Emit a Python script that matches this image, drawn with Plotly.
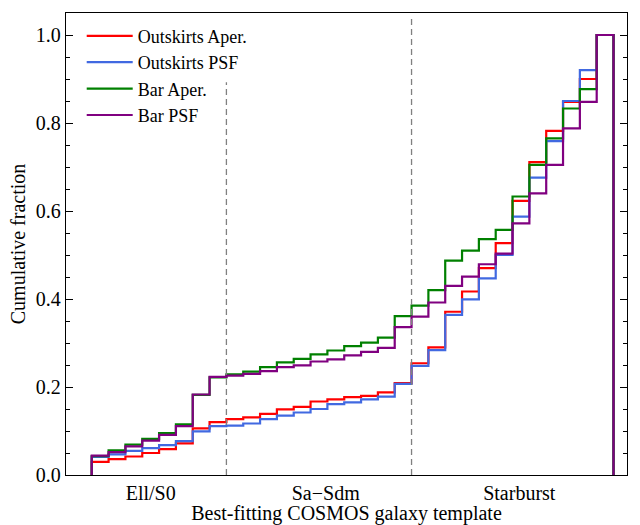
import plotly.graph_objects as go

# Cumulative fraction per COSMOS template bin (31 templates, bin edges 0..31)
outskirts_aper = [0.030, 0.036, 0.042, 0.050, 0.059, 0.072, 0.106, 0.120,
                  0.127, 0.131, 0.139, 0.149, 0.155, 0.167, 0.172, 0.177,
                  0.180, 0.188, 0.209, 0.254, 0.290, 0.371, 0.417, 0.470,
                  0.527, 0.623, 0.711, 0.782, 0.848, 0.900, 1.000]
outskirts_psf = [0.041, 0.047, 0.055, 0.061, 0.068, 0.077, 0.099, 0.111,
                 0.112, 0.117, 0.127, 0.135, 0.142, 0.150, 0.161, 0.165,
                 0.172, 0.178, 0.207, 0.248, 0.284, 0.364, 0.399, 0.447,
                 0.500, 0.587, 0.676, 0.759, 0.850, 0.920, 1.000]
bar_aper = [0.043, 0.056, 0.069, 0.082, 0.095, 0.115, 0.182, 0.222,
            0.229, 0.235, 0.245, 0.256, 0.264, 0.274, 0.283, 0.293,
            0.301, 0.312, 0.361, 0.385, 0.420, 0.487, 0.510, 0.536,
            0.557, 0.633, 0.705, 0.765, 0.833, 0.877, 1.000]
bar_psf = [0.044, 0.052, 0.065, 0.078, 0.091, 0.111, 0.183, 0.223,
           0.226, 0.230, 0.236, 0.245, 0.249, 0.258, 0.263, 0.272,
           0.280, 0.289, 0.336, 0.360, 0.392, 0.430, 0.451, 0.479,
           0.503, 0.572, 0.640, 0.705, 0.788, 0.848, 1.000]

series_names = ["Outskirts Aper.", "Outskirts PSF", "Bar Aper.", "Bar PSF"]
series_colors = ["#ff0000", "#4169e1", "#008000", "#800080"]

# Template class boundaries and label positions
class_boundaries = [8, 19]
class_labels = ["Ell/S0", "Sa\u2212Sdm", "Starburst"]
class_label_pos = [3.5, 13.9, 25.4]

FONT = "Liberation Serif"


def step_outline(values):
    """Outline of a cumulative step histogram (no bottom edge)."""
    n = len(values)
    xs = [0] + list(range(n)) + [n, n]
    ys = [0] + list(values) + [values[-1], 0]
    return xs, ys


fig = go.Figure()
for i, (name, vals, col) in enumerate(zip(
        series_names, [outskirts_aper, outskirts_psf, bar_aper, bar_psf],
        series_colors)):
    xs, ys = step_outline(vals)
    fig.add_trace(go.Scatter(
        x=xs, y=ys, mode="lines", name=name, legendgroup=f"g{i}",
        line=dict(color=col, width=2.2, shape="hv"),
    ))

# Dashed class dividers
fig.add_shape(type="line", xref="x", yref="paper", x0=class_boundaries[0],
              x1=class_boundaries[0], y0=0, y1=0.85,
              line=dict(color="gray", width=1.3, dash="6px,4px"))
fig.add_shape(type="line", xref="x", yref="paper", x0=class_boundaries[1],
              x1=class_boundaries[1], y0=0, y1=0.99,
              line=dict(color="gray", width=1.3, dash="6px,4px"))

fig.update_layout(
    width=640, height=525,
    margin=dict(l=66, r=13, t=13, b=50),
    paper_bgcolor="white", plot_bgcolor="white",
    font=dict(family=FONT, size=20, color="black"),
    showlegend=True,
    legend=dict(x=0.028, y=0.99, xanchor="left", yanchor="top",
                bgcolor="rgba(0,0,0,0)",
                font=dict(family=FONT, size=18, color="black"),
                tracegroupgap=0, traceorder="grouped", itemwidth=46),
)
fig.update_xaxes(
    range=[-1.53, 31.8], showgrid=False, zeroline=False, automargin=False,
    showline=True, linecolor="black", linewidth=1.3, mirror=True,
    tickmode="array", tickvals=class_label_pos, ticktext=class_labels,
    ticks="", tickfont=dict(family=FONT, size=20),
    title=dict(text="Best-fitting COSMOS galaxy template", standoff=6,
               font=dict(family=FONT, size=20)),
)
fig.update_yaxes(
    range=[0, 1.05], showgrid=False, zeroline=False, automargin=False,
    showline=True, linecolor="black", linewidth=1.3, mirror="ticks",
    tickmode="array", tickvals=[0, 0.2, 0.4, 0.6, 0.8, 1.0],
    ticktext=["0.0", "0.2", "0.4", "0.6", "0.8", "1.0"],
    ticks="inside", ticklen=7, tickwidth=1.1, tickcolor="black",
    minor=dict(ticks="inside", ticklen=4, tickwidth=0.9, tickcolor="black",
               dtick=0.05, tick0=0),
    tickfont=dict(family=FONT, size=20),
    title=dict(text="Cumulative fraction", standoff=4,
               font=dict(family=FONT, size=20)),
)

fig.write_html("out.html")
